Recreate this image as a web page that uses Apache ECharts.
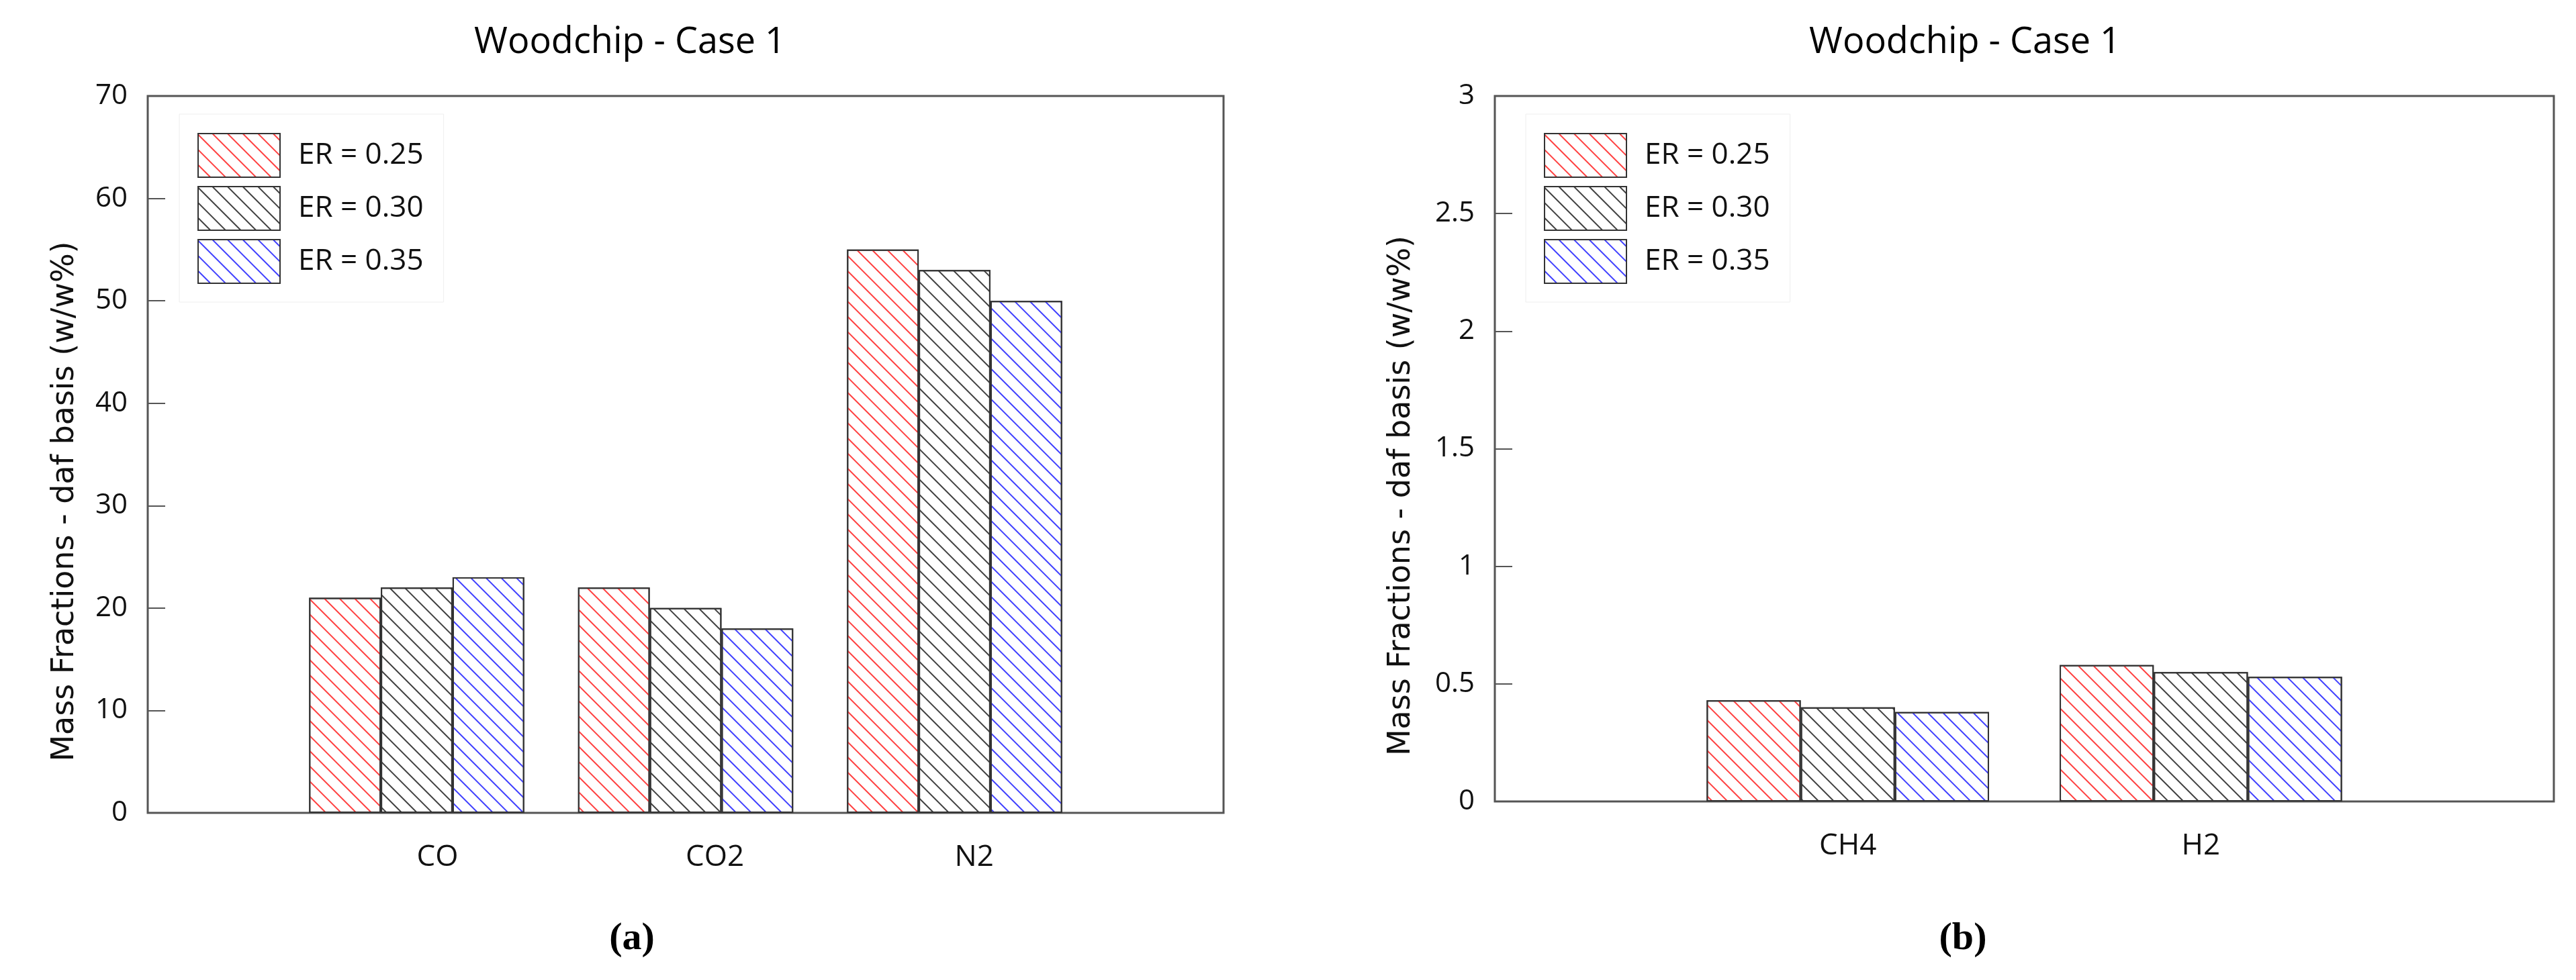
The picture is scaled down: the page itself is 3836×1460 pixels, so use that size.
<!DOCTYPE html>
<html lang="en">
<head>
    <meta charset="UTF-8">
    <title>Woodchip - Case 1</title>
    <style>
        html, body { margin: 0; padding: 0; background: #fff; }
    </style>
</head>
<body>
<div id="main" style="width: 3836px;height:1460px;"></div>
<script src="https://cdn.jsdelivr.net/npm/echarts@6/dist/echarts.min.js"></script>
<script>
    // data
    var titleText = 'Woodchip - Case 1';
    var yName = 'Mass Fractions - daf basis (w/w%)';
    var seriesNames = ['ER = 0.25', 'ER = 0.30', 'ER = 0.35'];

    // (a) gases
    var leftCategories = ['CO', 'CO2', 'N2'];
    var left025 = [21, 22, 55];
    var left030 = [22, 20, 53];
    var left035 = [23, 18, 50];
    var leftYMax = 70;
    var leftYStep = 10;

    // (b) gases
    var rightCategories = ['CH4', 'H2'];
    var right025 = [0.43, 0.58];
    var right030 = [0.40, 0.55];
    var right035 = [0.38, 0.53];
    var rightYMax = 3;
    var rightYStep = 0.5;

    var hatchColors = ['#ff4040', '#404040', '#4040ff'];
    var textFont = 'Open Sans';

    function hatch(color) {
        return {
            symbol: 'rect',
            symbolSize: 1,
            color: color,
            backgroundColor: null,
            dashArrayX: [1, 0],
            dashArrayY: [2, 14],
            rotation: Math.PI / 4
        };
    }

    // category i sits at x = i + 1 on the value axis
    function toPoints(values) {
        var out = [];
        for (var i = 0; i < values.length; i++) {
            out.push([i + 1, values[i]]);
        }
        return out;
    }

    function makeSeries(values, idx, axisIdx) {
        return {
            name: seriesNames[idx],
            type: 'bar',
            xAxisIndex: axisIdx,
            yAxisIndex: axisIdx,
            barWidth: '26.67%',
            barGap: '0%',
            data: toPoints(values),
            itemStyle: {
                color: '#ffffff',
                borderColor: '#333333',
                borderWidth: 2,
                decal: hatch(hatchColors[idx])
            }
        };
    }

    function makeLegend(left) {
        return {
            orient: 'vertical',
            left: left,
            top: 170,
            padding: [28, 30, 27, 27],
            borderColor: '#eeeeee',
            borderWidth: 1,
            icon: 'rect',
            itemWidth: 122,
            itemHeight: 65,
            itemGap: 12,
            selectedMode: false,
            data: seriesNames,
            itemStyle: { borderColor: '#333333', borderWidth: 2 },
            textStyle: { fontFamily: textFont, fontSize: 44, color: '#111', padding: [0, 0, 0, 22] }
        };
    }

    function makeYAxis(gridIdx, max, step, gap) {
        return {
            type: 'value',
            gridIndex: gridIdx,
            min: 0,
            max: max,
            interval: step,
            name: yName,
            nameLocation: 'middle',
            nameGap: gap,
            nameTextStyle: { fontFamily: 'DejaVu Sans', fontSize: 46, color: '#111', padding: [0, 140, 0, 0] },
            axisLine: { show: false },
            axisTick: { show: true, inside: true, length: 26, lineStyle: { color: '#555', width: 2 } },
            axisLabel: { fontFamily: textFont, fontSize: 42, color: '#111', margin: 30 },
            splitLine: { show: false }
        };
    }

    function makeXAxis(gridIdx, max, cats, align) {
        return {
            type: 'value',
            gridIndex: gridIdx,
            min: 0,
            max: max,
            interval: 1,
            axisLine: { show: false },
            axisTick: { show: false },
            splitLine: { show: false },
            axisLabel: {
                fontFamily: textFont,
                fontSize: 44,
                color: '#111',
                margin: 44,
                align: align,
                formatter: function (v) { return cats[v - 1] || ''; }
            }
        };
    }

    var myChart = echarts.init(document.getElementById('main'));
    myChart.setOption({
        backgroundColor: '#ffffff',
        animation: false,
        grid: [
            { left: 220, top: 143, width: 1602, height: 1068, show: true, borderColor: '#555', borderWidth: 3 },
            { left: 2226, top: 143, width: 1577, height: 1051, show: true, borderColor: '#555', borderWidth: 3 }
        ],
        xAxis: [
            makeXAxis(0, leftCategories.length + 1, leftCategories, 'left'),
            makeXAxis(1, rightCategories.length + 1, rightCategories, 'center')
        ],
        yAxis: [
            makeYAxis(0, leftYMax, leftYStep, 100),
            makeYAxis(1, rightYMax, rightYStep, 116)
        ],
        legend: [makeLegend(267), makeLegend(2272)],
        series: [
            makeSeries(left025, 0, 0),
            makeSeries(left030, 1, 0),
            makeSeries(left035, 2, 0),
            makeSeries(right025, 0, 1),
            makeSeries(right030, 1, 1),
            makeSeries(right035, 2, 1)
        ],
        graphic: [
            { type: 'text', x: 938, y: 64, style: { text: titleText, font: '54px "Open Sans"', fill: '#000', align: 'center', verticalAlign: 'middle' } },
            { type: 'text', x: 2926, y: 64, style: { text: titleText, font: '54px "Open Sans"', fill: '#000', align: 'center', verticalAlign: 'middle' } },
            { type: 'text', x: 941, y: 1399, style: { text: '(a)', font: 'bold 58px "Liberation Serif"', fill: '#000', align: 'center', verticalAlign: 'middle' } },
            { type: 'text', x: 2923, y: 1399, style: { text: '(b)', font: 'bold 58px "Liberation Serif"', fill: '#000', align: 'center', verticalAlign: 'middle' } }
        ]
    });
</script>
</body>
</html>
